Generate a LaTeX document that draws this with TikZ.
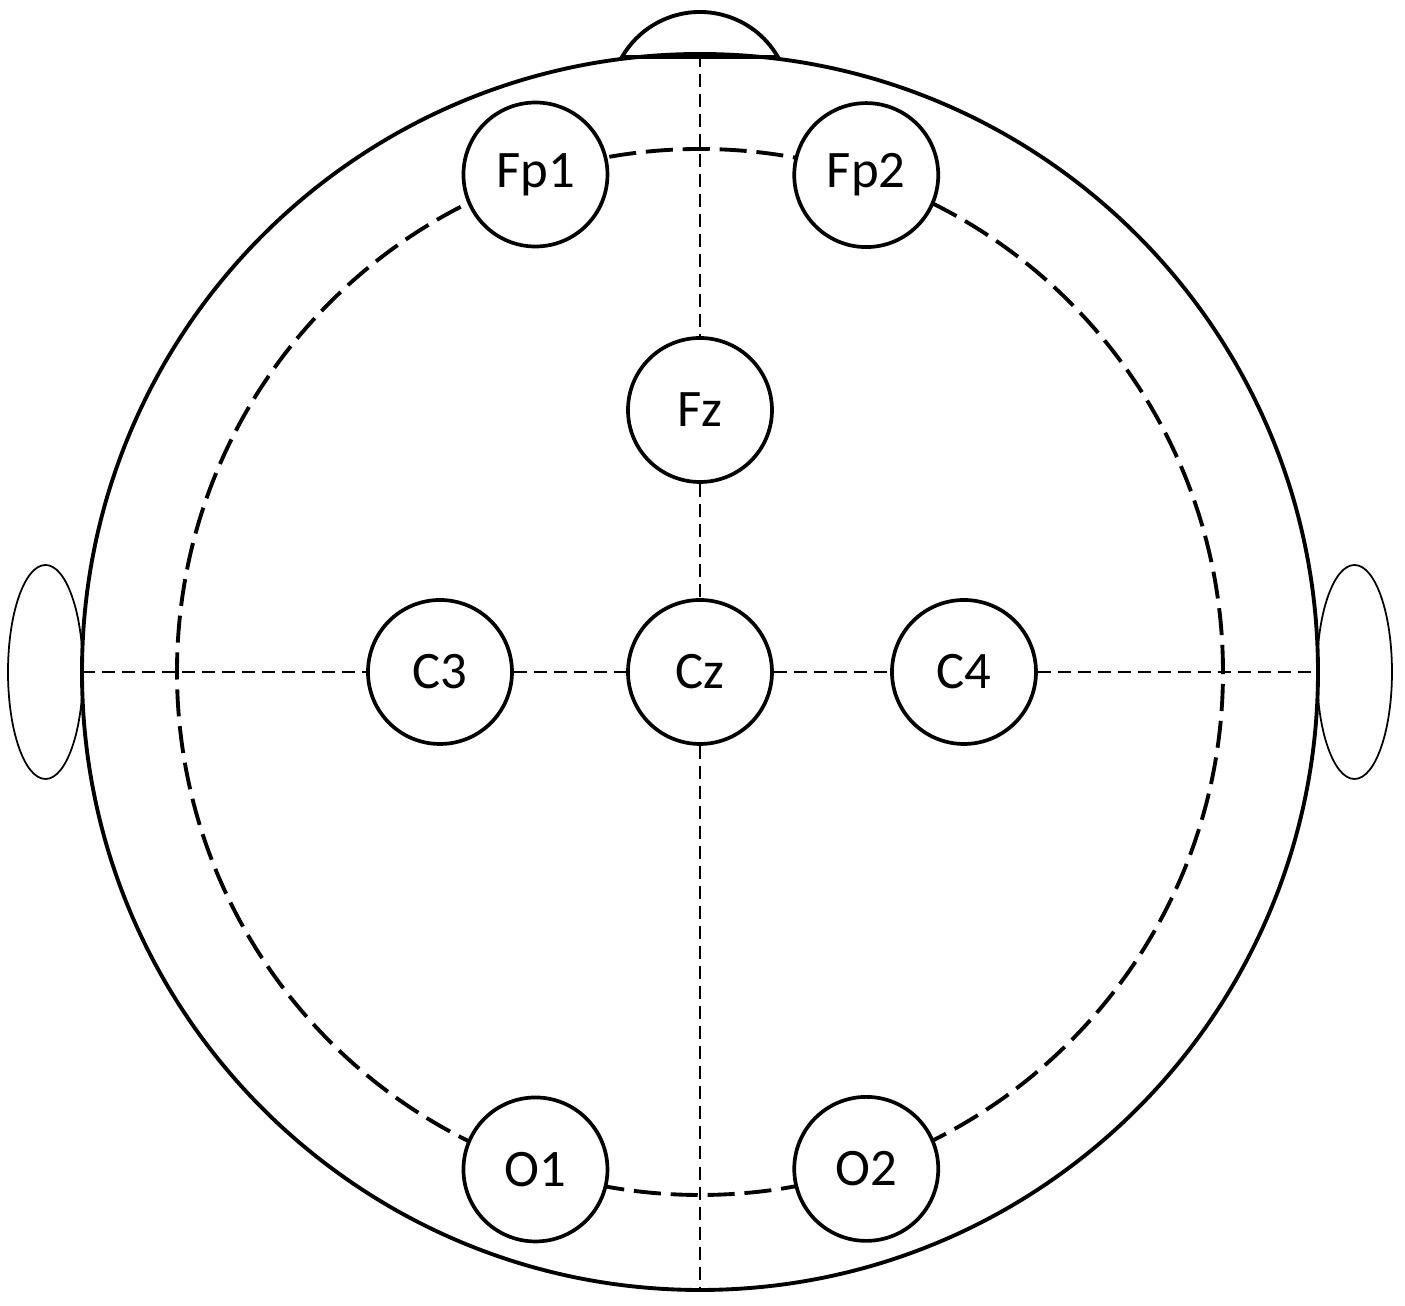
\documentclass[tikz,border=0pt]{standalone}
\usepackage{fontspec}
\setmainfont{Carlito}
\usepackage{tikz}

\begin{document}
\begin{tikzpicture}[
		electrode/.style={draw,circle,line width=1.05pt,fill=white,minimum size=1.44cm,inner sep=0pt,font=\fontsize{15}{18}\selectfont},
		guide/.style={line width=0.55pt,dash pattern=on 3.7pt off 2pt}]
					\useasboundingbox (-7.00,-6.34) rectangle (7.05,6.72);
					\draw[line width=1.1pt] (0,0) circle (6.18);
					\draw[line width=1.1pt] (0.779,6.15) arc (30:150:0.9) -- cycle;
					\draw[line width=0.5pt] (-6.545,0) ellipse (0.375 and 1.07);
					\draw[line width=0.5pt] (6.545,0) ellipse (0.375 and 1.07);
					\draw[line width=1.1pt,dash pattern=on 7.7pt off 2.8pt] (0,0) circle (5.23);
					% \draw[very thick,dashed] (0,0) circle (5.2);
					\coordinate (top) at (0,6.18);
					\coordinate (bottom) at (0,-6.18);
					\coordinate (left) at (-6.18,0);
					\coordinate (right) at (6.18,0);
					\node[electrode] (Fp1) at (108.3:5.24) {Fp1};
					\node[electrode] (Fp2) at (71.5:5.24) {Fp2};
					\node[electrode] (Fz) at (0,2.62) {Fz};
					\node[electrode] (C3) at (-2.60,0) {C3};
					\node[electrode] (Cz) at (0,0) {Cz};
					\node[electrode] (C4) at (2.64,0) {C4};
					\node[electrode] (O1) at (251.7:5.24) {O1};
					\node[electrode] (O2) at (288.5:5.24) {O2};
					\draw[guide] (top) -- (Fz);
					\draw[guide] (Fz) -- (Cz);
					\draw[guide] (Cz) -- (bottom);
					\draw[guide] (left) -- (C3);
					\draw[guide] (C3) -- (Cz);
					\draw[guide] (Cz) -- (C4);
					\draw[guide] (C4) -- (right);
				\end{tikzpicture}
\end{document}
